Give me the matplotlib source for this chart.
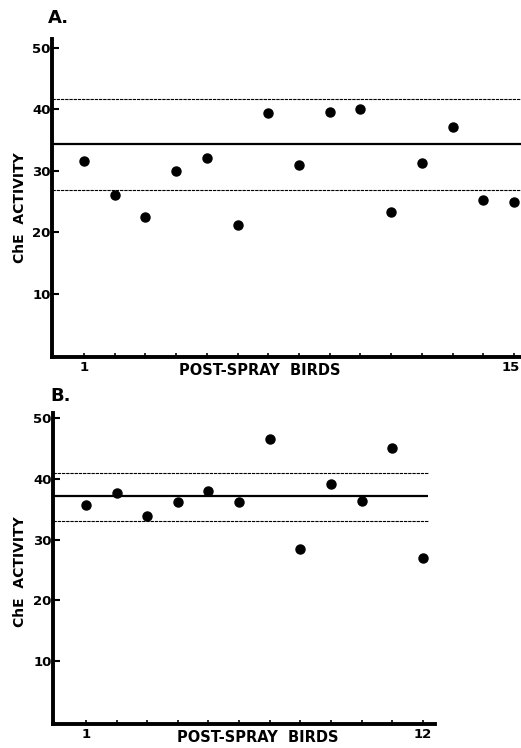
import matplotlib.pyplot as plt
import matplotlib.transforms as mtransforms
import numpy as np

# panel A: 15 post-spray birds
a_birds = np.arange(1, 16)
a_che = [31.6, 26.1, 22.4, 30.0, 32.1, 21.2, 39.3, 30.9, 39.5, 40.1, 23.3, 31.2, 37.1, 25.2, 24.9]
a_mean = 34.3
a_band = [26.9, 41.6]

# panel B: 12 post-spray birds
b_birds = np.arange(1, 13)
b_che = [35.7, 37.7, 33.8, 36.2, 38.0, 36.1, 46.5, 28.5, 39.1, 36.3, 45.0, 26.9]
b_mean = 37.1
b_band = [33.1, 41.0]

y_ticks = [10, 20, 30, 40, 50]

W, H = 521, 748
plt.rcParams['font.family'] = ['DejaVu Sans']
plt.rcParams['font.weight'] = 'bold'
fig = plt.figure(figsize=(W / 100, H / 100), dpi=100)


def px_axes(left, top, right, bottom):
    return fig.add_axes([left / W, 1 - bottom / H, (right - left) / W, (bottom - top) / H])


def draw_panel(ax, birds, che, mean, band, xlim, ylim, line_end, xlab_pos, ylab_pos):
    ax.set_xlim(*xlim)
    ax.set_ylim(*ylim)
    x_end = xlim[1] if line_end is None else line_end
    ax.hlines(mean, xlim[0], x_end, color='black', lw=1.6, zorder=2)
    for b in band:
        ax.hlines(b, xlim[0], x_end, color='black', lw=0.8, linestyles=(0, (3, 0.8)), zorder=2)
    ax.plot(birds, che, 'o', color='black', ms=6.5, zorder=3, clip_on=False)

    for s in ['top', 'right']:
        ax.spines[s].set_visible(False)
    for s in ['left', 'bottom']:
        ax.spines[s].set_linewidth(2.8)
    ax.set_yticks(y_ticks)
    ax.set_yticklabels([str(t) for t in y_ticks], fontsize=9.5, fontweight='bold')
    ax.tick_params(axis='y', direction='in', length=5, width=1.5, pad=1)
    ax.set_xticks(birds)
    labels = [''] * len(birds)
    labels[0] = '1'
    labels[-1] = str(birds[-1])
    ax.set_xticklabels(labels, fontsize=9.5, fontweight='bold')
    ax.tick_params(axis='x', direction='in', length=3, width=1.2, pad=3)
    ax.set_xlabel('POST-SPRAY  BIRDS', fontsize=10.5, fontweight='bold', va='center')
    ax.xaxis.set_label_coords(*xlab_pos)
    ax.set_ylabel('ChE  ACTIVITY', fontsize=10, fontweight='bold', va='center')
    ax.yaxis.set_label_coords(*ylab_pos)


ax_a = px_axes(52, 39, 521, 357)
draw_panel(ax_a, a_birds, a_che, a_mean, a_band, (-0.04, 15.23), (-0.3, 51.4), None,
           (0.443, -0.043), (-0.068, 0.469))
# keep the "15" inside the figure edge
last = ax_a.get_xticklabels()[-1]
last.set_transform(last.get_transform() + mtransforms.ScaledTranslation(-3 / 100, 0, fig.dpi_scale_trans))

ax_b = px_axes(53, 413, 435, 724)
draw_panel(ax_b, b_birds, b_che, b_mean, b_band, (-0.08, 12.4), (-0.3, 50.8), 12.17,
           (0.537, -0.044), (-0.086, 0.489))

fig.text(48 / W, 1 - 18 / H, 'A.', fontsize=13, fontweight='bold', va='center', ha='left')
fig.text(50 / W, 1 - 396 / H, 'B.', fontsize=13, fontweight='bold', va='center', ha='left')

fig.savefig('out.png', dpi=100)
